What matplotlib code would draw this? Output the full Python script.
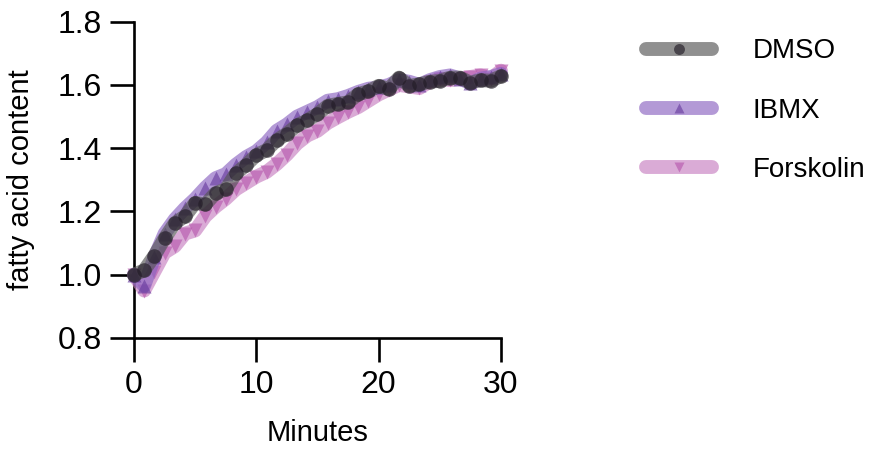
import numpy as np
import matplotlib
matplotlib.use("Agg")
import matplotlib.pyplot as plt

plt.rcParams['font.family'] = ['Liberation Sans', 'DejaVu Sans']

minutes = np.linspace(0, 30, 37)

dmso = [1.000, 1.014, 1.060, 1.115, 1.163, 1.185, 1.227, 1.222, 1.258, 1.270, 1.320, 1.347,
        1.378, 1.394, 1.425, 1.446, 1.472, 1.488, 1.508, 1.534, 1.540, 1.545, 1.571, 1.580,
        1.597, 1.587, 1.623, 1.597, 1.602, 1.610, 1.613, 1.623, 1.623, 1.607, 1.615, 1.613, 1.628]

ibmx = [1.000, 0.965, 1.055, 1.130, 1.175, 1.210, 1.240, 1.275, 1.305, 1.318, 1.348, 1.372,
        1.390, 1.418, 1.455, 1.475, 1.500, 1.515, 1.530, 1.550, 1.555, 1.565, 1.578, 1.588,
        1.592, 1.600, 1.615, 1.610, 1.600, 1.615, 1.625, 1.630, 1.620, 1.605, 1.620, 1.625, 1.635]

forskolin = [1.000, 0.950, 1.010, 1.070, 1.090, 1.130, 1.140, 1.185, 1.215, 1.240, 1.270, 1.290,
             1.310, 1.325, 1.350, 1.380, 1.415, 1.440, 1.455, 1.480, 1.498, 1.515, 1.530, 1.550,
             1.570, 1.585, 1.600, 1.595, 1.590, 1.610, 1.620, 1.615, 1.620, 1.625, 1.630, 1.620, 1.645]

labels = ['DMSO', 'IBMX', 'Forskolin']
line_colors = ['#555555', '#8a63c0', '#c77fc0']
marker_colors = ['#221c26', '#6a3fa0', '#b85aae']
markers = ['o', '^', 'v']

fig = plt.figure(figsize=(8.69, 4.51), dpi=100)
ax = fig.add_axes([0.1542, 0.2506, 0.5765 - 0.1542, 0.952 - 0.2506])

series = [dmso, ibmx, forskolin]
handles = [None] * 3
for idx in [2, 1, 0]:
    h, = ax.plot(minutes, series[idx], color=line_colors[idx], alpha=0.65, lw=10,
                 solid_capstyle='round', marker=markers[idx], markersize=10.5,
                 markerfacecolor=marker_colors[idx], markeredgecolor='none',
                 clip_on=False, label=labels[idx], zorder=3 + (2 - idx))
    handles[idx] = h

ax.set_xlim(0, 30)
ax.set_ylim(0.8, 1.8)
ax.set_xticks([0, 10, 20, 30])
ax.set_yticks([0.8, 1.0, 1.2, 1.4, 1.6, 1.8])
ax.set_yticklabels(['0.8', '1.0', '1.2', '1.4', '1.6', '1.8'])
for s in ['top', 'right']:
    ax.spines[s].set_visible(False)
for s in ['left', 'bottom']:
    ax.spines[s].set_linewidth(1.9)
ax.tick_params(axis='both', direction='out', length=17, width=1.9, labelsize=23, pad=6)
ax.set_xlabel('Minutes', fontsize=21, labelpad=14)
ax.set_ylabel('fatty acid content', fontsize=21)
ax.yaxis.set_label_coords(-0.27, 0.5)

fig.legend(handles=handles, labels=labels, loc='upper left', bbox_to_anchor=(0.743, 0.915),
           frameon=False, fontsize=20, handlelength=2.4, numpoints=1, labelspacing=1.2,
           handletextpad=1.45, borderpad=0, borderaxespad=0, markerscale=0.75)

fig.savefig('out.png', dpi=100)
